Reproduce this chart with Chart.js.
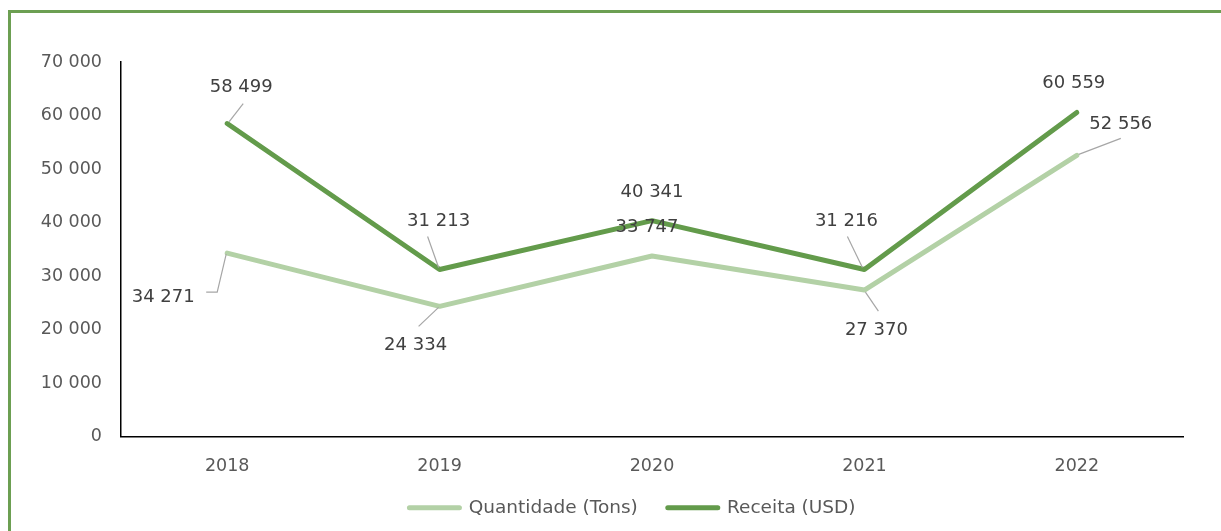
<!DOCTYPE html>
<html>
<head>
<meta charset="utf-8">
<script src="https://cdn.jsdelivr.net/npm/chart.js@4"></script>
<style>
  html, body { margin: 0; padding: 0; background: #fff; overflow: hidden; }
  body { width: 1221px; height: 531px; position: relative; }
  #frame {
    position: absolute; left: 8px; top: 10px; width: 1400px; height: 700px;
    border-left: 3px solid #6c9f52; border-top: 3px solid #6c9f52;
  }
  #wrap { position: absolute; left: 0; top: 0; width: 1221px; height: 531px; }
</style>
</head>
<body>
<div id="frame"></div>
<div id="wrap"><canvas id="chart" width="1221" height="531"></canvas></div>
<script>
// data
const years = ['2018', '2019', '2020', '2021', '2022'];
const quantidade = [34271, 24334, 33747, 27370, 52556];
const receita = [58499, 31213, 40341, 31216, 60559];
const yTicks = [0, 10000, 20000, 30000, 40000, 50000, 60000, 70000];

// label placement (px relative to the point), and leader line path
const receitaLabels = [
  { dx: 14, dy: -36, leader: [[2, -2], [16, -20]] },
  { dx: -1, dy: -48, leader: [[-1, -2], [-12, -33]] },
  { dx: 0, dy: -28 },
  { dx: -18, dy: -48, leader: [[-2, -2], [-17, -33]] },
  { dx: -3, dy: -29 }
];
const quantidadeLabels = [
  { dx: -64, dy: 44, leader: [[-1, 1], [-10, 39], [-21, 39]] },
  { dx: -24, dy: 39, leader: [[-1, 1], [-21, 20]] },
  { dx: -5, dy: -29 },
  { dx: 12, dy: 40, leader: [[1, 2], [14, 21]] },
  { dx: 44, dy: -31, leader: [[2, -1], [44, -17]] }
];

const fmt = v => String(v).replace(/\B(?=(\d{3})+(?!\d))/g, ' ');
const FONT = "'DejaVu Sans', Verdana, sans-serif";

const labelPlugin = {
  id: 'pointLabels',
  afterLayout(chart) {
    // legend sits a little right of the canvas centre in the original
    chart.legend.left += 41;
    chart.legend.right += 41;
    // let the year labels spill into the legend band instead of being clipped
    chart.scales.x.bottom += 24;
  },
  afterDatasetsDraw(chart) {
    const ctx = chart.ctx;
    chart.data.datasets.forEach((ds, i) => {
      const meta = chart.getDatasetMeta(i);
      const conf = ds.labelConf;
      meta.data.forEach((pt, j) => {
        const c = conf[j];
        ctx.save();
        if (c.leader) {
          ctx.strokeStyle = '#a6a6a6';
          ctx.lineWidth = 1.2;
          ctx.beginPath();
          c.leader.forEach((p, k) => {
            if (k === 0) ctx.moveTo(pt.x + p[0], pt.y + p[1]);
            else ctx.lineTo(pt.x + p[0], pt.y + p[1]);
          });
          ctx.stroke();
        }
        ctx.fillStyle = '#404040';
        ctx.font = '18px ' + FONT;
        ctx.textAlign = 'center';
        ctx.textBaseline = 'middle';
        ctx.fillText(fmt(ds.data[j]), pt.x + c.dx, pt.y + c.dy);
        ctx.restore();
      });
    });
  }
};

new Chart(document.getElementById('chart'), {
  type: 'line',
  data: {
    labels: years,
    datasets: [
      {
        label: 'Quantidade (Tons)',
        data: quantidade,
        borderColor: '#b3d1a6',
        backgroundColor: '#b3d1a6',
        borderWidth: 5,
        borderCapStyle: 'round',
        borderJoinStyle: 'round',
        pointRadius: 0,
        tension: 0,
        order: 1,
        labelConf: quantidadeLabels
      },
      {
        label: 'Receita (USD)',
        data: receita,
        borderColor: '#639b4b',
        backgroundColor: '#639b4b',
        borderWidth: 5,
        borderCapStyle: 'round',
        borderJoinStyle: 'round',
        pointRadius: 0,
        tension: 0,
        order: 0,
        labelConf: receitaLabels
      }
    ]
  },
  options: {
    responsive: false,
    animation: false,
    layout: { padding: { left: 0, right: 38, top: 62, bottom: 4 } },
    plugins: {
      tooltip: { enabled: false },
      legend: {
        position: 'bottom',
        labels: {
          color: '#595959',
          font: { family: FONT, size: 18.5 },
          usePointStyle: true,
          pointStyleWidth: 50,
          boxWidth: 50,
          boxHeight: 17,
          padding: 30,
          generateLabels(chart) {
            return chart.data.datasets.map((ds, i) => ({
              text: ds.label,
              datasetIndex: i,
              pointStyle: 'line',
              strokeStyle: ds.borderColor,
              fillStyle: ds.borderColor,
              lineWidth: 5,
              lineCap: 'round',
              fontColor: '#595959'
            }));
          }
        }
      }
    },
    scales: {
      x: {
        offset: true,
        grid: { display: false, drawTicks: false, offset: true },
        border: { display: true, color: '#000', width: 1.5 },
        ticks: { color: '#595959', font: { family: FONT, size: 17.5 }, padding: 19 },
        afterFit(scale) { scale.height = 32; }
      },
      y: {
        min: 0,
        max: 70000,
        afterBuildTicks(scale) { scale.ticks = yTicks.map(v => ({ value: v })); },
        grid: { display: false, drawTicks: false },
        border: { display: true, color: '#000', width: 1.5 },
        ticks: {
          color: '#595959',
          font: { family: FONT, size: 17.5 },
          padding: 19,
          callback: v => fmt(v)
        },
        afterFit(scale) { scale.width = 121; }
      }
    }
  },
  plugins: [labelPlugin]
});
</script>
</body>
</html>
